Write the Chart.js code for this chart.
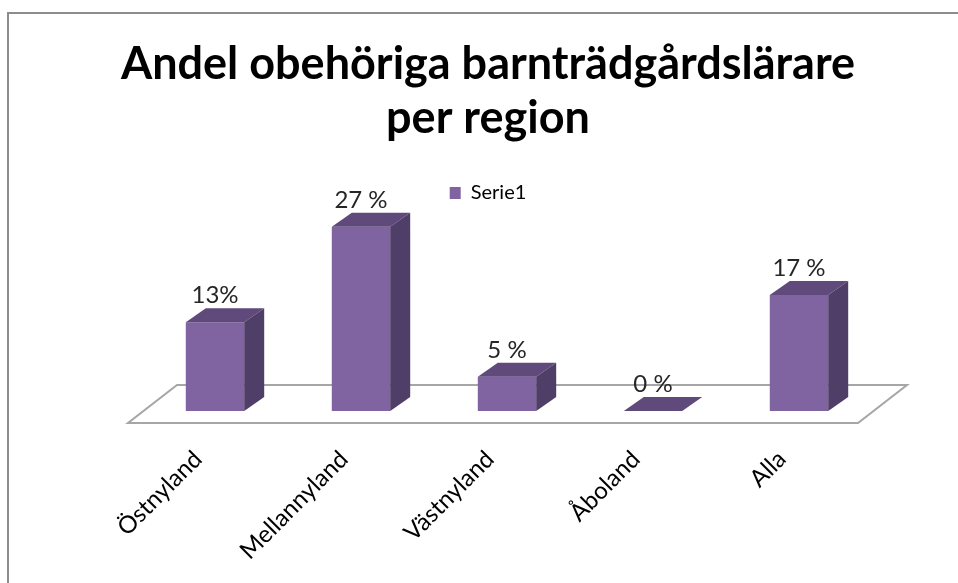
<!DOCTYPE html>
<html>
<head>
<meta charset="utf-8">
<script src="https://cdn.jsdelivr.net/npm/chart.js@4"></script>
<style>
  html, body { margin: 0; padding: 0; background: #fff; }
  #wrap { width: 958px; height: 583px; }
</style>
</head>
<body>
<div id="wrap"><canvas id="chart" width="958" height="583"></canvas></div>
<script>
const categories = ['Östnyland', 'Mellannyland', 'Västnyland', 'Åboland', 'Alla'];
const values = [13, 27, 5, 0, 17];
const valueLabels = ['13%', '27 %', '5 %', '0 %', '17 %'];
const seriesName = 'Serie1';
const titleLines = ['Andel obehöriga barnträdgårdslärare', 'per region'];

const FRONT = '#8064a2', TOP = '#604a7c', SIDE = '#4f3e67';
const DX = 20, DY = -14;

// frame line round the chart (top and left visible)
const framePlugin = {
    id: 'frame',
    beforeDraw(chart) {
        const ctx = chart.ctx;
        ctx.save();
        ctx.fillStyle = '#fff';
        ctx.fillRect(0, 0, chart.width, chart.height);
        ctx.strokeStyle = '#8c8c8c';
        ctx.lineWidth = 2;
        ctx.beginPath();
        ctx.moveTo(8, chart.height + 2);
        ctx.lineTo(8, 13);
        ctx.lineTo(chart.width + 2, 13);
        ctx.stroke();
        ctx.restore();
    }
};

// 3D floor under the bars
const floorPlugin = {
    id: 'floor',
    beforeDatasetsDraw(chart) {
        const a = chart.chartArea, ctx = chart.ctx;
        const front = a.bottom + 12, back = a.bottom - 26;
        ctx.save();
        ctx.beginPath();
        ctx.moveTo(a.left - 14, front);
        ctx.lineTo(a.right - 14, front);
        ctx.lineTo(a.right + 35, back);
        ctx.lineTo(a.left + 35, back);
        ctx.closePath();
        ctx.fillStyle = '#fff';
        ctx.fill();
        ctx.strokeStyle = '#a6a6a6';
        ctx.lineWidth = 2;
        ctx.stroke();
        ctx.restore();
    }
};

// top and side faces of each bar, then value labels
const depthPlugin = {
    id: 'depth',
    afterDatasetsDraw(chart) {
        const ctx = chart.ctx;
        const meta = chart.getDatasetMeta(0);
        ctx.save();
        meta.data.forEach((bar, i) => {
            const p = bar.getProps(['x', 'y', 'base', 'width'], true);
            const l = p.x - p.width / 2, r = p.x + p.width / 2;
            // top
            ctx.beginPath();
            ctx.moveTo(l, p.y);
            ctx.lineTo(r, p.y);
            ctx.lineTo(r + DX, p.y + DY);
            ctx.lineTo(l + DX, p.y + DY);
            ctx.closePath();
            ctx.fillStyle = TOP;
            ctx.fill();
            // side
            if (p.base - p.y > 0.5) {
                ctx.beginPath();
                ctx.moveTo(r, p.y);
                ctx.lineTo(r + DX, p.y + DY);
                ctx.lineTo(r + DX, p.base + DY);
                ctx.lineTo(r, p.base);
                ctx.closePath();
                ctx.fillStyle = SIDE;
                ctx.fill();
            }
        });
        ctx.fillStyle = '#262626';
        ctx.font = '24px Lato';
        ctx.textAlign = 'center';
        ctx.textBaseline = 'alphabetic';
        meta.data.forEach((bar, i) => {
            const p = bar.getProps(['x', 'y'], true);
            ctx.fillText(valueLabels[i], p.x, p.y - 19);
        });
        ctx.restore();
    }
};

new Chart(document.getElementById('chart'), {
    type: 'bar',
    data: {
        labels: categories,
        datasets: [{
            label: seriesName,
            data: values,
            backgroundColor: FRONT,
            borderWidth: 0,
            barPercentage: 0.4,
            categoryPercentage: 1.0
        }]
    },
    options: {
        responsive: false,
        animation: false,
        layout: { padding: { left: 18, right: 0, top: 0, bottom: 0 } },
        plugins: {
            title: {
                display: true,
                text: titleLines,
                color: '#000',
                font: { family: 'Lato', size: 45, weight: 'bold', lineHeight: 1.2 },
                padding: { top: 37, bottom: 28 }
            },
            legend: {
                display: true,
                position: 'top',
                labels: {
                    color: '#000',
                    font: { family: 'Lato', size: 20 },
                    boxWidth: 11,
                    boxHeight: 12,
                    padding: 10
                }
            },
            tooltip: { enabled: false }
        },
        scales: {
            x: {
                grid: { display: false, drawTicks: false },
                border: { display: false },
                ticks: {
                    color: '#000',
                    font: { family: 'Lato', size: 24 },
                    minRotation: 45,
                    maxRotation: 45,
                    padding: 34,
                    labelOffset: -17
                },
                afterFit(scale) { scale.height = 172; }
            },
            y: {
                min: 0,
                max: 29,
                grid: { display: false },
                border: { display: false },
                ticks: { display: false },
                afterFit(scale) { scale.width = 124; }
            },
            y2: {
                type: 'linear',
                position: 'right',
                grid: { display: false },
                border: { display: false },
                ticks: { display: false },
                afterFit(scale) { scale.width = 86; }
            }
        }
    },
    plugins: [framePlugin, floorPlugin, depthPlugin]
});
</script>
</body>
</html>
